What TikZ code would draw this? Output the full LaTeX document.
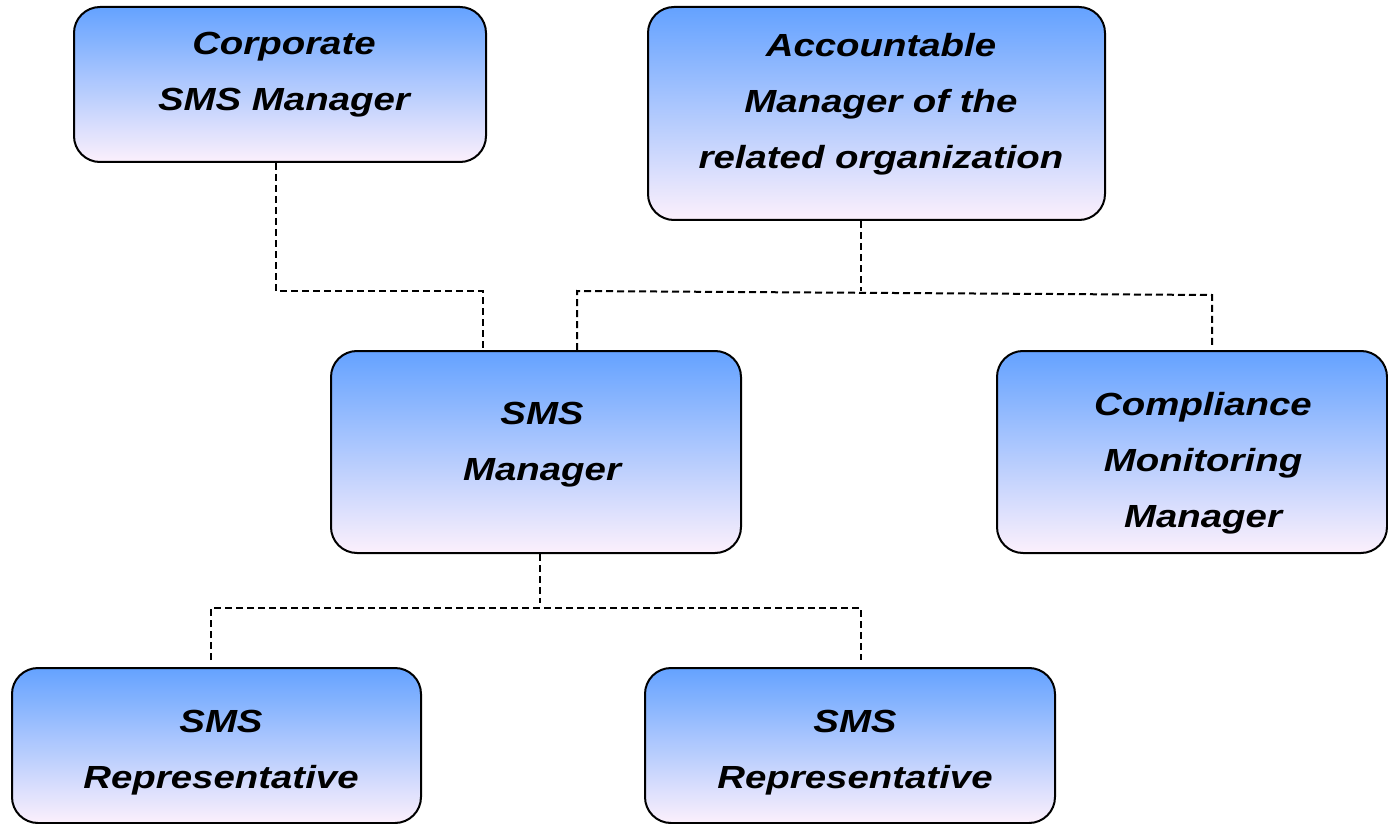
\documentclass[tikz,border=0pt]{standalone}
\usepackage{fontspec}
\newfontfamily\boxfont[FakeStretch=1.2]{Liberation Sans}
\definecolor{boxtop}{RGB}{100,162,255}
\definecolor{boxmid}{RGB}{128,202,255}
\definecolor{boxbot}{RGB}{252,240,252}

\begin{document}
\begin{tikzpicture}[x=0.5pt, y=-0.5pt,
    orgbox/.style={draw=black, line width=1pt, rounded corners=13pt,
        top color=boxtop, middle color=boxmid, bottom color=boxbot,
        inner sep=0pt},
    orgtext/.style={align=center, inner sep=0pt,
        font=\boxfont\bfseries\itshape\fontsize{16pt}{28pt}\selectfont},
    link/.style={draw=black, line width=1pt, dash pattern=on 3.5pt off 2pt}
]
        \useasboundingbox (0,0) rectangle (1388,824);

        % --- 箱 ---
        \node[orgbox, minimum width=206pt, minimum height=77.5pt] (corp) at (280,84.5) {};
        \node[orgbox, minimum width=228.5pt, minimum height=106.5pt] (acc) at (876.5,113.5) {};
        \node[orgbox, minimum width=205pt, minimum height=101pt] (smsm) at (536,452) {};
        \node[orgbox, minimum width=195pt, minimum height=101pt] (comp) at (1192,452) {};
        \node[orgbox, minimum width=204.5pt, minimum height=77.5pt] (repa) at (216.5,745.5) {};
        \node[orgbox, minimum width=205pt, minimum height=77.5pt] (repb) at (850,745.5) {};

        % --- 文字 ---
        \node[orgtext] (corp-t) at (284,75) {Corporate\\SMS Manager};
        \node[orgtext] (acc-t) at (881,104) {Accountable\\Manager of the\\related organization};
        \node[orgtext] (smsm-t) at (542,445) {SMS\\Manager};
        \node[orgtext] (comp-t) at (1203,463.5) {Compliance\\Monitoring\\Manager};
        \node[orgtext] (repa-t) at (221,752.5) {SMS\\Representative};
        \node[orgtext] (repb-t) at (855,752.5) {SMS\\Representative};

        % --- 接続点 ---
        \coordinate (corpdrop) at (276,291);
        \coordinate (smsmleft) at (483,291);
        \coordinate (accdrop) at (861,291);
        \coordinate (busleft) at (577,291);
        \coordinate (busright) at (1212,295);
        \coordinate (comptap) at (1212,345);
        \coordinate (smsmdrop) at (540,603);
        \coordinate (repbusa) at (211,608);
        \coordinate (repbusb) at (861,608);
        \coordinate (repatap) at (211,660);
        \coordinate (repbtap) at (861,660);

        % --- 点線 ---
        \draw[link] (corp.south -| corpdrop) -- (corpdrop) -- (smsmleft) -- (smsm.north -| smsmleft);
        \draw[link] (acc.south -| accdrop) -- (accdrop);
        \draw[link] (smsm.north -| busleft) -- (busleft) -- (busright) -- (comptap);
        \draw[link] (smsm.south -| smsmdrop) -- (smsmdrop);
        \draw[link] (repatap) -- (repbusa) -- (repbusb) -- (repbtap);

\end{tikzpicture}
\end{document}
